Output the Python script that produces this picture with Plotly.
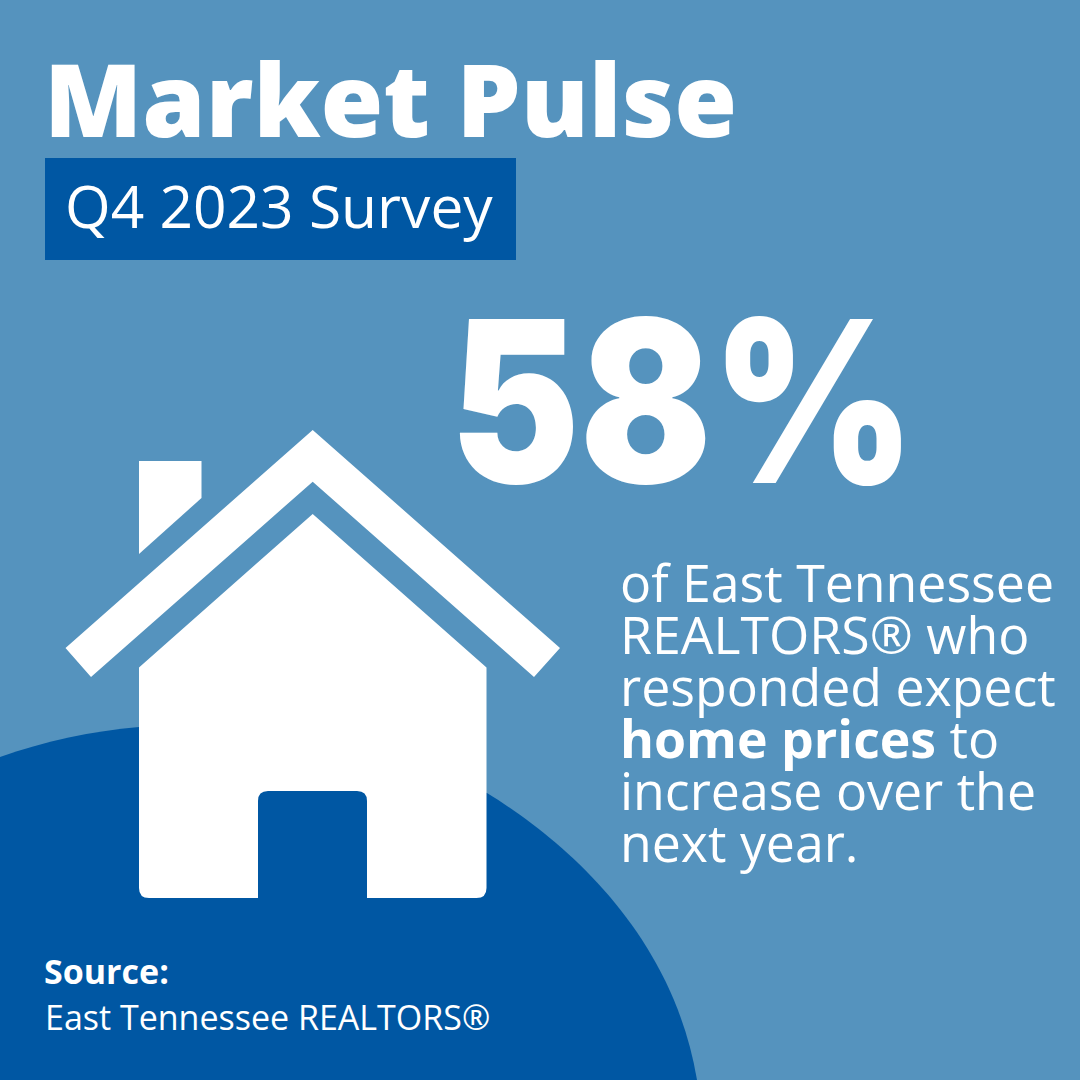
import plotly.graph_objects as go

BG = "#5593BE"
DARK = "#0057A3"
WHITE = "#FFFFFF"

title_text = "Market Pulse"
survey_label = "Q4 2023 Survey"
headline_pct = 58
body_lines = [
    "of East Tennessee",
    "REALTORS® who",
    "responded expect",
    "<b>home prices</b> to",
    "increase over the",
    "next year.",
]
source_head = "Source:"
source_name = "East Tennessee REALTORS®"

fig = go.Figure()

# background blob, the top of it is hidden behind the house
fig.add_shape(type="path", layer="below", line_width=0, fillcolor=DARK,
              path="M 0,757 C 45,741 92,731 139,727 L 487,793 C 560,838 672,930 697,1080 L 0,1080 Z")
fig.add_shape(type="rect", layer="below", line_width=0, fillcolor=DARK,
              x0=45, x1=516, y0=158, y1=260)

# house
fig.add_shape(type="path", line_width=0, fillcolor=WHITE,
              path="M 312.7,430 L 560,648 L 534,677 L 312.7,481.7 L 91,677 L 65.5,648 Z")
fig.add_shape(type="path", line_width=0, fillcolor=WHITE,
              path="M 139,461 L 201.5,461 L 201.5,498 L 139,554 Z")
fig.add_shape(type="path", line_width=0, fillcolor=WHITE,
              path="M 312.7,514 L 486.5,667.5 L 486.5,888 Q 486.5,898 476.5,898 L 367,898 "
                   "L 367,801 Q 367,791 357,791 L 268,791 Q 258,791 258,801 L 258,898 "
                   "L 149,898 Q 139,898 139,888 L 139,667.5 Z")


def add_text(text, x, y, size, family="Open Sans", weight=400):
    fig.add_annotation(text=text, x=x, y=y, xref="x", yref="y", xanchor="left", yanchor="middle",
                       showarrow=False, align="left",
                       font=dict(family=family, size=size, color=WHITE, weight=weight))


add_text(title_text, 42, 97, 101.7, weight=800)
add_text(survey_label, 63, 205, 58.7)
add_text(f"{headline_pct}%", 448, 401, 226, family="Inter", weight=900)

for i, line in enumerate(body_lines):
    add_text(line, 618, 581.5 + i * 52, 51.8)

add_text(f"<b>{source_head}</b>", 42, 971, 34)
add_text(source_name, 43, 1017, 34)

fig.update_xaxes(range=[0, 1080], visible=False, fixedrange=True)
fig.update_yaxes(range=[1080, 0], visible=False, fixedrange=True)
fig.update_layout(width=1080, height=1080, margin=dict(l=0, r=0, t=0, b=0),
                  paper_bgcolor=BG, plot_bgcolor=BG, showlegend=False)

# the big number is narrower in the original than any installed font, squeeze it
fig.write_html("out.html", config={"displayModeBar": False},
               post_script="""document.body.style.margin='0';
document.querySelectorAll('text.annotation-text').forEach(function (t) {
  if (t.style.fontSize === '226px') {
    t.setAttribute('textLength', '465');
    t.setAttribute('lengthAdjust', 'spacingAndGlyphs');
  }
});""")
